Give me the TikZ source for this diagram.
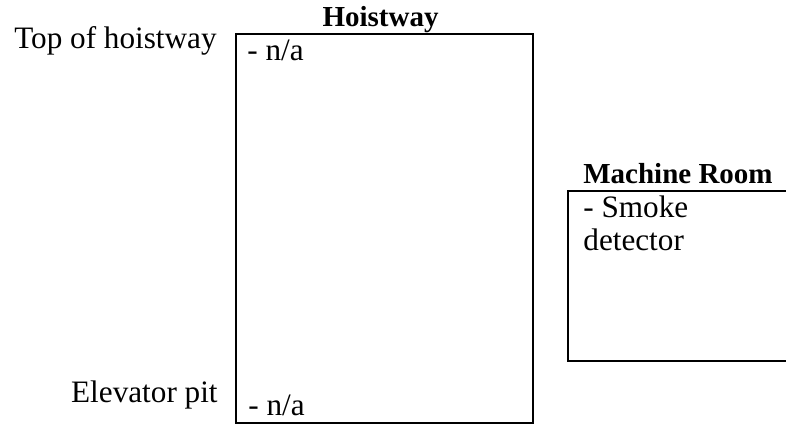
\documentclass[tikz,border=0pt]{standalone}
\usepackage{fontspec}
\setmainfont{Liberation Serif}
\usetikzlibrary{positioning}
\tikzstyle{room} = [rectangle, draw=black, line width=1.2pt, inner sep=0pt, anchor=north west]
\tikzstyle{roomtitle} = [font=\fontsize{14.5}{17}\selectfont\bfseries, inner sep=0pt, anchor=base]
\tikzstyle{levelname} = [font=\fontsize{15.6}{18}\selectfont, inner sep=0pt, anchor=base east]
\tikzstyle{item} = [font=\fontsize{15.6}{16.5}\selectfont, inner sep=0pt, anchor=base west, align=left]

\begin{document}
\begin{tikzpicture}[x=0.5pt, y=-0.5pt]
\useasboundingbox (0,0) rectangle (786,423);

\node (hoistway) [room, minimum width=148.5pt, minimum height=194.5pt] at (235,33) {};
\node (machineroom) [room, minimum width=111pt, minimum height=85pt] at (567,190) {};

\node (hoistwaytitle) [roomtitle] at (380.5,26) {Hoistway};
\node (machinetitle) [roomtitle] at (678,183) {Machine Room};

\node (top) [levelname] at (217,48) {Top of hoistway};
\node (pit) [levelname] at (218,402) {Elevator pit};

\node (topitem) [item] at (247,60) {- n/a};
\node (pititem) [item] at (248,415) {- n/a};
% base of a two-line node sits on the last line
\node (machineitem) [item] at (583,250) {- Smoke\\detector};

\end{tikzpicture}
\end{document}
